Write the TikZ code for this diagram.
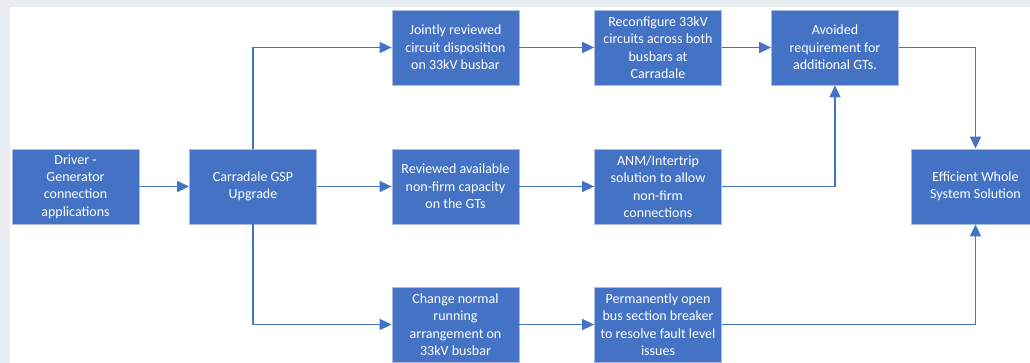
\documentclass[tikz,border=0pt]{standalone}
\usepackage{fontspec}
\setmainfont{Carlito}
\usetikzlibrary{arrows.meta}
\definecolor{boxblue}{HTML}{4472C4}
\definecolor{boxedge}{HTML}{A9BDE2}
\definecolor{pagegrey}{HTML}{EAEDF0}
\tikzset{
  stepbox/.style={rectangle, fill=boxblue, draw=boxedge, line width=0.8pt,
    minimum width=127pt, minimum height=75pt, inner sep=2pt,
    text=white, align=center, font=\fontsize{14}{17.4}\selectfont},
  flow/.style={draw=boxblue, line width=1.6pt,
    -{Triangle[length=12pt, width=11pt]}}
}
\begin{document}
\begin{tikzpicture}[x=1pt, y=-1pt]
  \useasboundingbox (0,0) rectangle (1030,363);
  \begin{scope}
    \clip (0,0) rectangle (1030,363);
    \fill[pagegrey] (0,0) rectangle (1030,363);
    \fill[white] (10,7) rectangle (1030,363);

    \node[stepbox] (drv)   at (75.5,186.5)  {Driver -\\Generator\\connection\\applications};
    \node[stepbox] (gsp)   at (253,186.5)   {Carradale GSP\\Upgrade};
    \node[stepbox] (joint) at (455.5,47.5)  {Jointly reviewed\\circuit disposition\\on 33kV busbar};
    \node[stepbox] (rev)   at (455.5,186.5) {Reviewed available\\non-firm capacity\\on the GTs};
    \node[stepbox] (chg)   at (455.5,324.5) {Change normal\\running\\arrangement on\\33kV busbar};
    \node[stepbox] (recon) at (658,47.5)    {Reconfigure 33kV\\circuits across both\\busbars at\\Carradale};
    \node[stepbox] (anm)   at (658,186.5)   {ANM/Intertrip\\solution to allow\\non-firm\\connections};
    \node[stepbox] (perm)  at (658,324.5)   {Permanently open\\bus section breaker\\to resolve fault level\\issues};
    \node[stepbox] (avoid) at (835,47.5)    {Avoided\\requirement for\\additional GTs.};
    \node[stepbox, minimum width=129pt] (eff) at (975.5,186.5) {Efficient Whole\\System Solution};

    \draw[flow] (drv) -- (gsp);
    \draw[flow] (gsp.north) |- (joint.west);
    \draw[flow] (gsp) -- (rev);
    \draw[flow] (gsp.south) |- (chg.west);
    \draw[flow] (joint) -- (recon);
    \draw[flow] (recon) -- (avoid);
    \draw[flow] (rev) -- (anm);
    \draw[flow] (chg) -- (perm);
    \draw[flow] (anm.east) -| (avoid.south);
    \draw[flow] (avoid.east) -| (eff.north);
    \draw[flow] (perm.east) -| (eff.south);
  \end{scope}
\end{tikzpicture}
\end{document}
